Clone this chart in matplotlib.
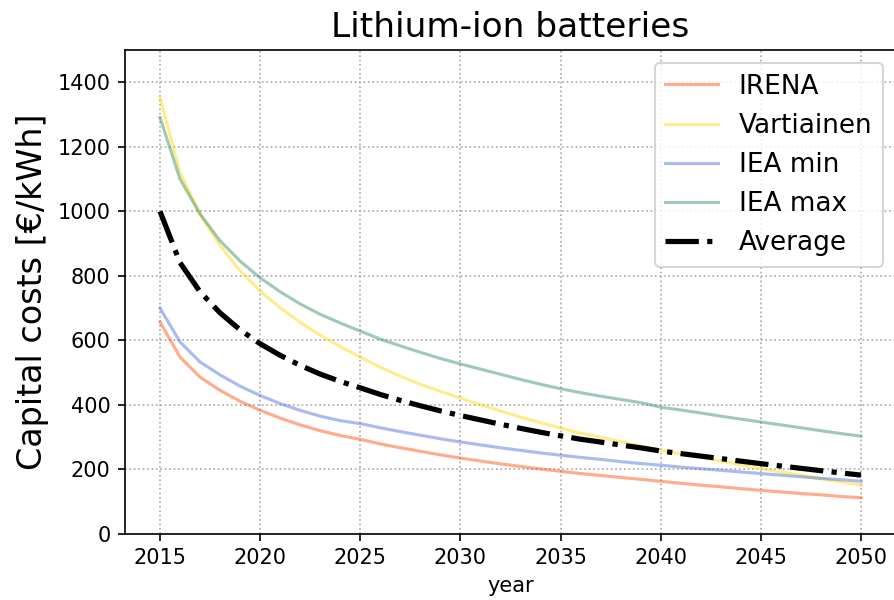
import numpy as np
import matplotlib.pyplot as plt

years = np.arange(2015, 2051)

# capital cost projections, EUR/kWh
irena = [656, 547, 485, 444, 410, 382, 358, 337, 319, 304,
         292, 278, 266, 255, 244, 234, 225, 216, 208, 200,
         193, 186, 180, 174, 168, 162, 156, 150, 145, 139,
         134, 129, 124, 120, 115, 111]
vartiainen = [1352, 1120, 991, 893, 815, 752, 700, 655, 615, 580,
              547, 516, 488, 463, 441, 420, 400, 380, 361, 344,
              327, 311, 299, 285, 272, 258, 247, 236, 225, 213,
              201, 191, 181, 170, 160, 150]
iea_min = [699, 594, 532, 492, 457, 428, 403, 382, 364, 350,
           341, 328, 316, 305, 294, 284, 275, 266, 258, 250,
           243, 236, 230, 223, 217, 212, 206, 201, 196, 191,
           186, 181, 176, 171, 167, 162]
iea_max = [1290, 1099, 991, 908, 845, 793, 750, 712, 680, 653,
           628, 603, 582, 562, 543, 526, 510, 494, 478, 463,
           449, 437, 426, 416, 406, 392, 383, 374, 364, 355,
           346, 337, 328, 319, 310, 302]

average = np.mean([irena, vartiainen, iea_min, iea_max], axis=0)

fig = plt.figure(figsize=(5.96, 4.0), dpi=150)
ax = fig.add_axes([0.1398, 0.1108, 0.8625, 0.8059])

ax.plot(years, irena, color='orangered', alpha=0.45, lw=1.5, label='IRENA')
ax.plot(years, vartiainen, color='gold', alpha=0.45, lw=1.5, label='Vartiainen')
ax.plot(years, iea_min, color='royalblue', alpha=0.45, lw=1.5, label='IEA min')
ax.plot(years, iea_max, color='seagreen', alpha=0.45, lw=1.5, label='IEA max')
ax.plot(years, average, color='black', ls='-.', lw=2.5, label='Average')

ax.set_xlim(2013.25, 2051.75)
ax.set_ylim(0, 1500)
ax.set_xticks(np.arange(2015, 2051, 5))
ax.set_yticks(np.arange(0, 1401, 200))
ax.tick_params(labelsize=10)
ax.grid(True, ls=':', color='#a8a8a8', lw=0.8)
ax.spines['right'].set_visible(False)

ax.set_title('Lithium-ion batteries', fontsize=16.5)
ax.set_ylabel('Capital costs [€/kWh]', fontsize=16)
ax.set_xlabel('year', fontsize=10)
ax.legend(loc='upper right', fontsize=12.6)

fig.savefig('out.png', dpi=150)
